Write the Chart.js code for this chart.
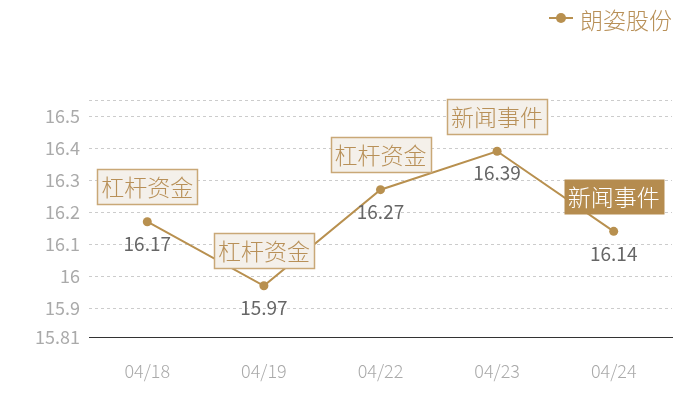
<!DOCTYPE html>
<html><head><meta charset="utf-8">
<script src="https://cdn.jsdelivr.net/npm/chart.js@4/dist/chart.umd.min.js"></script>
<style>html,body{margin:0;padding:0;background:#fff;}#wrap{width:700px;height:400px;}</style>
</head><body><div id="wrap"><canvas id="c" width="700" height="400"></canvas></div>
<script>
const categories = ['04/18','04/19','04/22','04/23','04/24'];
const seriesName = '朗姿股份';
const prices = [16.17, 15.97, 16.27, 16.39, 16.14];
const eventLabels = ['杠杆资金','杠杆资金','杠杆资金','新闻事件','新闻事件'];
const highlighted = [false, false, false, false, true];
const yTicks = [15.81, 15.9, 16, 16.1, 16.2, 16.3, 16.4, 16.5, 16.55];
const yMin = 15.81, yMax = 16.55;

const GOLD = '#b8904f';
const FONT = '"Noto Sans CJK SC", "Noto Sans", sans-serif';

const overlay = {
  id: 'overlay',
  afterDatasetsDraw(chart) {
    const ctx = chart.ctx;
    const meta = chart.getDatasetMeta(0);
    ctx.save();
    meta.data.forEach((pt, i) => {
      // value label
      ctx.font = '19px ' + FONT;
      ctx.fillStyle = '#666';
      ctx.textAlign = 'center';
      ctx.textBaseline = 'middle';
      ctx.fillText(String(prices[i]), pt.x, pt.y + 22);
      // event box
      ctx.font = '300 23px ' + FONT;
      const txt = eventLabels[i];
      const w = ctx.measureText(txt).width + 8;
      const h = 35;
      const cx = pt.x, cy = pt.y - 35;
      const x0 = Math.round(cx - w / 2) + 0.5, y0 = Math.round(cy - h / 2) + 0.5;
      if (highlighted[i]) {
        ctx.fillStyle = '#b58c4f';
        ctx.fillRect(x0, y0, w, h);
        ctx.fillStyle = '#ffffff';
      } else {
        ctx.fillStyle = '#f4f0ea';
        ctx.fillRect(x0, y0, w, h);
        ctx.strokeStyle = '#c9a877';
        ctx.lineWidth = 1.5;
        ctx.strokeRect(x0, y0, w, h);
        ctx.fillStyle = '#b89058';
      }
      ctx.fillText(txt, cx, cy + 1);
    });
    // legend
    const lx = 549, ly = 18;
    ctx.strokeStyle = GOLD;
    ctx.lineWidth = 2;
    ctx.beginPath(); ctx.moveTo(lx, ly); ctx.lineTo(lx + 24, ly); ctx.stroke();
    ctx.fillStyle = GOLD;
    ctx.beginPath(); ctx.arc(lx + 12, ly, 5, 0, Math.PI * 2); ctx.fill();
    ctx.font = '300 23px ' + FONT;
    ctx.textAlign = 'left';
    ctx.fillStyle = '#b89058';
    ctx.fillText(chart.data.datasets[0].label, 580, ly + 2);
    ctx.restore();
  }
};

new Chart(document.getElementById('c'), {
  type: 'line',
  data: {
    labels: categories,
    datasets: [{
      label: seriesName,
      data: prices,
      borderColor: GOLD,
      backgroundColor: GOLD,
      borderWidth: 2,
      pointRadius: 4.5,
      pointBackgroundColor: GOLD,
      pointBorderWidth: 0,
      tension: 0,
      fill: false
    }]
  },
  options: {
    responsive: false,
    animation: false,
    devicePixelRatio: 1,
    layout: { padding: { top: 100, right: 28, left: 0, bottom: 0 } },
    plugins: { legend: { display: false }, tooltip: { enabled: false } },
    scales: {
      x: {
        offset: true,
        grid: { display: false, drawTicks: false },
        border: { display: true, color: '#333', width: 1 },
        ticks: { color: '#aaa', font: { size: 18, family: FONT, weight: '300' }, padding: 23, maxRotation: 0 },
        afterFit(s) { s.height = 63; }
      },
      y: {
        min: yMin, max: yMax,
        afterBuildTicks(s) { s.ticks = yTicks.map(v => ({ value: v })); },
        grid: {
          drawTicks: false,
          color: c => (c.tick && c.tick.value === yMin) ? 'rgba(0,0,0,0)' : '#cccccc',
          lineWidth: 1
        },
        border: { display: false, dash: [3, 3] },
        ticks: {
          color: '#aaa',
          font: { size: 18, family: FONT },
          padding: 9,
          callback: v => (v === 16.55 ? '' : String(v))
        },
        afterFit(s) { s.width = 89; }
      }
    }
  },
  plugins: [overlay]
});
</script></body></html>
